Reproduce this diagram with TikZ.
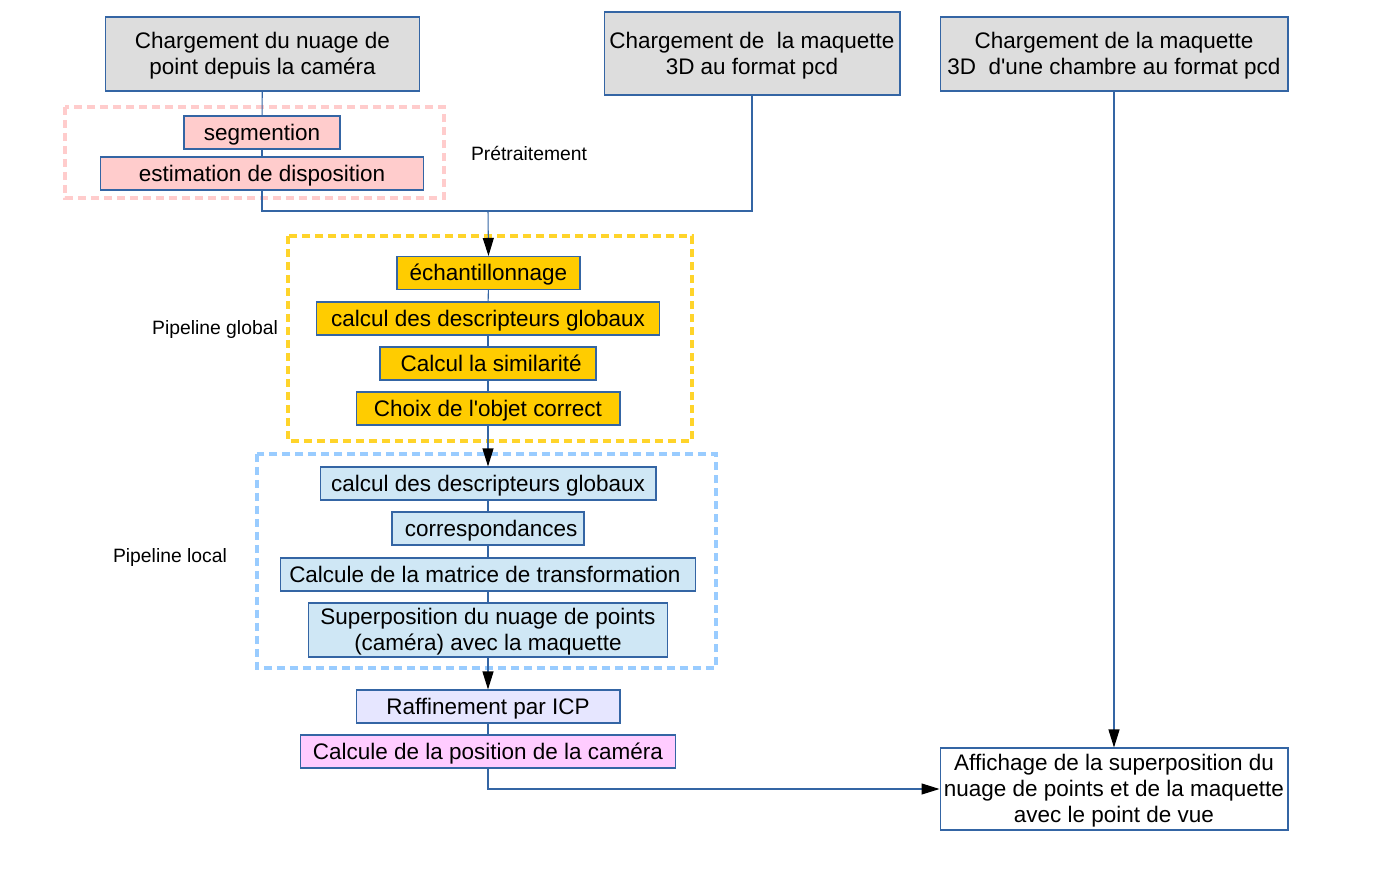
\documentclass[tikz,border=0pt]{standalone}
\usepackage{fontspec}
\setmainfont{Liberation Sans}
\usepackage{tikz}
\usetikzlibrary{arrows.meta,positioning}
\definecolor{boxborder}{HTML}{3465A4}
\definecolor{loadgray}{HTML}{DDDDDD}
\definecolor{prepink}{HTML}{FFCCCC}
\definecolor{globyellow}{HTML}{FFCC00}
\definecolor{globdash}{HTML}{FFD42A}
\definecolor{locblue}{HTML}{CFE7F5}
\definecolor{locdash}{HTML}{99CCFF}
\definecolor{icplav}{HTML}{E6E6FF}
\definecolor{posmagenta}{HTML}{FFCCFF}
\newcommand{\boxfont}{\fontsize{12.8}{14.8}\selectfont}
\newcommand{\topstrut}{\rule{0pt}{0.905em}}
\newcommand{\botstrut}{\rule[-0.212em]{0pt}{0.212em}}
\tikzset{
  stepbox/.style = {draw=boxborder, line width=0.6pt, inner sep=0pt, align=center, font=\boxfont,
    minimum height=0.66cm, execute at begin node=\topstrut, execute at end node=\botstrut},
  loadbox/.style = {stepbox, fill=loadgray, minimum height=1.48cm},
  prebox/.style = {stepbox, fill=prepink},
  globbox/.style = {stepbox, fill=globyellow},
  locbox/.style = {stepbox, fill=locblue},
  group/.style = {line width=2.4pt, dash pattern=on 0.17cm off 0.09cm},
  grouplabel/.style = {font=\fontsize{11}{13}\selectfont},
  link/.style = {draw=boxborder, line width=0.6pt},
  flow/.style = {link, -{Triangle[length=0.36cm, width=0.22cm, color=black]}},
}
\begin{document}
\begin{tikzpicture}[x=0.02cm, y=-0.02cm]
\useasboundingbox (0,0) rectangle (1380,888);

% groupes en pointilles
\draw[group, draw=prepink] (65,107) rectangle (444,198);
\draw[group, draw=globdash] (288,236) rectangle (692,441);
\draw[group, draw=locdash] (257,454) rectangle (716,668);
\node[grouplabel] (lpre) at (529,153) {Prétraitement};
\node[grouplabel] (lglob) at (215,330) {Pipeline global};
\node[grouplabel] (lloc) at (170,558) {Pipeline local};

% chargements
\node[loadbox, minimum width=6.3cm] (cam) at (262.5,54) {\topstrut Chargement du nuage de\\point depuis la caméra\botstrut};
\node[loadbox, minimum width=5.92cm, minimum height=1.66cm] (maq) at (752,53.5) {\topstrut Chargement de \ la maquette\\3D au format pcd\botstrut};
\node[loadbox, minimum width=6.96cm] (chambre) at (1114,54) {\topstrut Chargement de la maquette\\3D \ d\textquotesingle une chambre au format pcd\botstrut};

% pretraitement
\node[prebox, minimum width=3.12cm] (seg) at (262,132.5) {segmention};
\node[prebox, minimum width=6.48cm] (estim) at (262,173.5) {estimation de disposition};

% pipeline global
\node[globbox, minimum width=3.66cm] (echant) at (488.5,273) {échantillonnage};
\node[globbox, minimum width=6.88cm] (gdesc) at (488,318.5) {calcul des descripteurs globaux};
\node[globbox, minimum width=4.32cm] (simil) at (488,363.5) {\ Calcul la similarité};
\node[globbox, minimum width=5.28cm] (choix) at (488,408.5) {Choix de l\textquotesingle objet correct};

% pipeline local
\node[locbox, minimum width=6.72cm] (ldesc) at (488,483.5) {calcul des descripteurs globaux};
\node[locbox, minimum width=3.84cm] (corresp) at (488,528.5) {\ correspondances};
\node[locbox, minimum width=8.32cm] (matrice) at (488,574.5) {Calcule de la matrice de transformation\ };
\node[locbox, minimum width=7.2cm, minimum height=1.08cm] (superp) at (488,630) {\topstrut Superposition du nuage de points\\(caméra) avec la maquette\botstrut};

% raffinement et affichage
\node[stepbox, fill=icplav, minimum width=5.28cm] (icp) at (488,706.5) {Raffinement par ICP};
\node[stepbox, fill=posmagenta, minimum width=7.52cm] (pos) at (488,751.5) {Calcule de la position de la caméra};
\node[stepbox, fill=white, minimum width=6.96cm, minimum height=1.64cm] (aff) at (1114,789) {\topstrut Affichage de la superposition du\ \\nuage de points et de la maquette\\avec le point de vue\botstrut};

% liaisons
\coordinate (merge) at (488,211);
\draw[link] (cam) -- (seg);
\draw[link] (seg) -- (estim);
\draw[link] (estim.south) |- (merge) -| (maq.south);
\draw[flow] (merge) -- (echant.north);
\draw[link] (echant) -- (gdesc);
\draw[link] (gdesc) -- (simil);
\draw[link] (simil) -- (choix);
\draw[flow] (choix) -- (ldesc);
\draw[link] (ldesc) -- (corresp);
\draw[link] (corresp) -- (matrice);
\draw[link] (matrice) -- (superp);
\draw[flow] (superp) -- (icp);
\draw[link] (icp) -- (pos);
\draw[flow] (pos.south) |- (aff.west);
\draw[flow] (chambre.south) -- (aff.north);
\end{tikzpicture}
\end{document}
